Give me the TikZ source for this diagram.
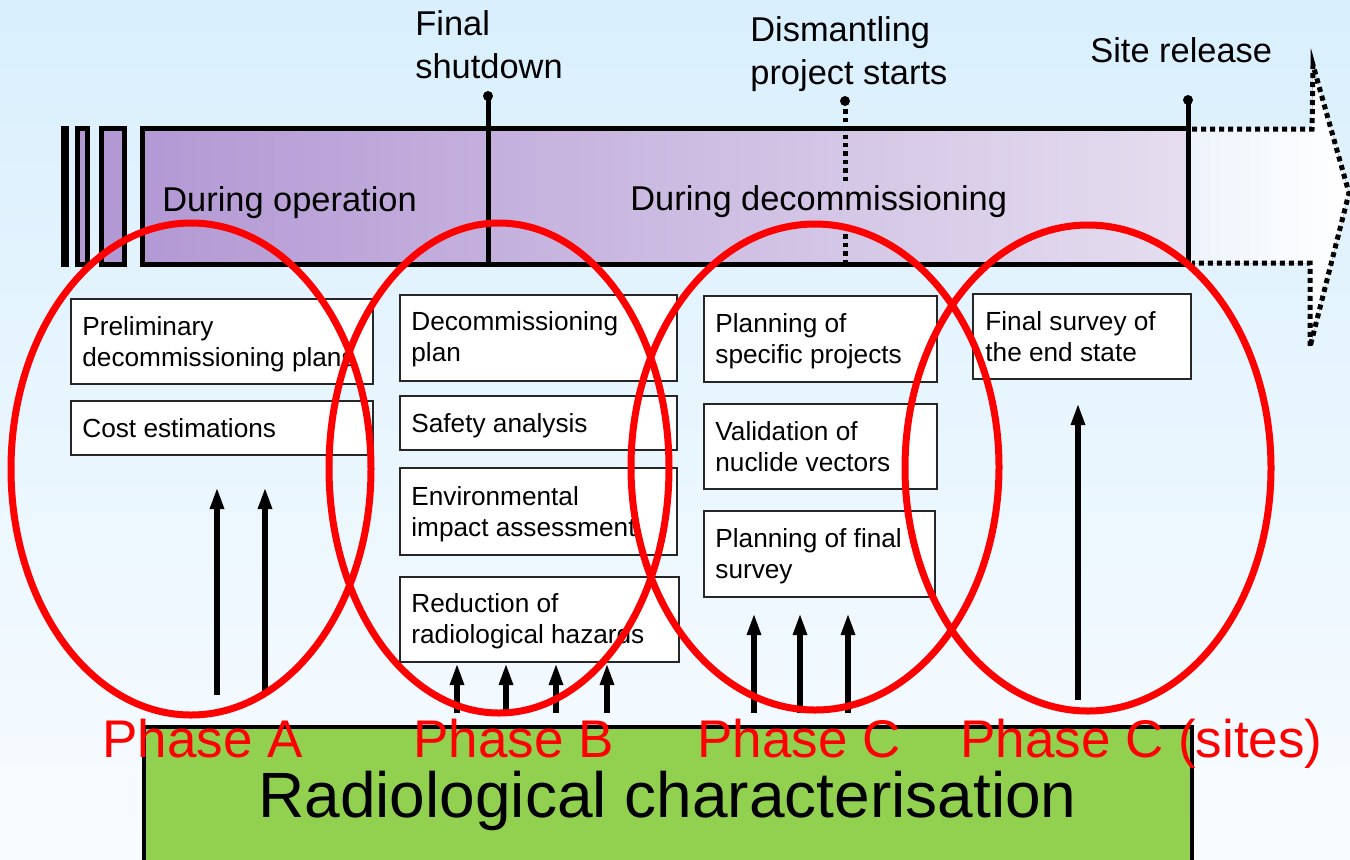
\documentclass[tikz,border=0pt]{standalone}
\usepackage{fontspec}
\setmainfont{Liberation Sans}
\usetikzlibrary{arrows.meta,calc}
\definecolor{bgtop}{RGB}{217,239,253}
\definecolor{bgbot}{RGB}{248,252,255}
\definecolor{barL}{RGB}{179,153,212}
\definecolor{barR}{RGB}{229,221,239}
\definecolor{arrL}{RGB}{238,244,252}
\definecolor{rcgreen}{RGB}{146,208,80}
\begin{document}
\begin{tikzpicture}[x=0.5pt,y=-0.5pt,
  box/.style={draw=black!85,line width=1pt,fill=white,inner sep=0,anchor=north west},
  btext/.style={anchor=base west,align=left,inner sep=0,font=\fontsize{13.1}{15.5}\selectfont},
  tl/.style={anchor=base west,align=left,inner sep=0,font=\fontsize{17.2}{21.5}\selectfont},
  ph/.style={anchor=base west,inner sep=0,text=red,font=\fontsize{26.5}{30}\selectfont},
  arr/.style={line width=3pt,-{Triangle[width=6.5pt,length=11pt]}},
  ring/.style={draw=red,line width=3.5pt},
  barline/.style={line width=2.5pt},
  dotline/.style={line width=2.5pt,dash pattern=on 2.2pt off 2pt},
  arrdots/.style={line width=2.5pt,dash pattern=on 2.5pt off 2pt},
]
\useasboundingbox (0,0) rectangle (1350,859);
\clip (0,0) rectangle (1350,859);
\fill[top color=bgtop,bottom color=bgbot] (0,0) rectangle (1350,859);

% big dotted arrow
\fill[left color=arrL,right color=white] (1188,129) -- (1312,129) -- (1313,65) -- (1349,193) -- (1310,347) -- (1310,263) -- (1188,263) -- cycle;
\draw[arrdots] (1192,129) -- (1312,129) -- (1313,65) -- (1349,193) -- (1310,347) -- (1310,263) -- (1192,263);

% thin bars at left
\fill (61,126) rectangle (69,267);
\draw[barline,fill=barL] (77.5,128.5) rectangle (87,264.5);
\draw[barline,fill=barL] (101.5,128.5) rectangle (124.5,264.5);

% main bar
\fill[left color=barL,right color=barR] (142.5,128.5) rectangle (1188,264.5);
\draw[barline] (1188,128.5) -- (142.5,128.5) -- (142.5,264.5) -- (1188,264.5);
\coordinate (fs) at (488,96);
\coordinate (dp) at (845,101);
\coordinate (sr) at (1188,100);
\draw[barline] (fs) -- (488,264.5);
\fill (fs) circle (5);
\draw[barline] (sr) -- (1188,264.5);
\fill (sr) circle (5);
\draw[dotline] (dp) -- (845,182);
\draw[dotline] (845,226) -- (845,266);
\fill (dp) circle (5);

% timeline labels (base = last line)
\node[tl] (tfs) at (415,78) {Final\\shutdown};
\node[tl] (tdp) at (750,84) {Dismantling\\project starts};
\node[tl] (tsr) at (1090,62) {Site release};
\node[tl] (top) at (162,211) {During operation};
\node[tl] (tdc) at (630,210) {During decommissioning};

% boxes
\node[box,minimum width=151pt,minimum height=42.5pt] (b1) at (70,298) {};
\node[box,minimum width=151pt,minimum height=27pt] (b2) at (70,400) {};
\node[box,minimum width=138.5pt,minimum height=43pt] (b3) at (399,294) {};
\node[box,minimum width=138.5pt,minimum height=27pt] (b4) at (399,395) {};
\node[box,minimum width=138.5pt,minimum height=43.5pt] (b5) at (399,467) {};
\node[box,minimum width=139.5pt,minimum height=42.5pt] (b6) at (399,576) {};
\node[box,minimum width=116.5pt,minimum height=43pt] (b7) at (703,295) {};
\node[box,minimum width=116.5pt,minimum height=42.5pt] (b8) at (703,403) {};
\node[box,minimum width=115.5pt,minimum height=43pt] (b9) at (703,510) {};
\node[box,minimum width=109pt,minimum height=42.5pt] (b10) at (972,293) {};

\node[btext] (t1) at ($(b1.north west)+(12,68)$) {Preliminary\\decommissioning plans};
\node[btext] (t2) at ($(b2.north west)+(12,37)$) {Cost estimations};
\node[btext] (t3) at ($(b3.north west)+(12,67)$) {Decommissioning\\plan};
\node[btext] (t4) at ($(b4.north west)+(12,37)$) {Safety analysis};
\node[btext] (t5) at ($(b5.north west)+(12,69)$) {Environmental\\impact assessment};
\node[btext] (t6) at ($(b6.north west)+(12,67)$) {Reduction of\\radiological hazards};
\node[btext] (t7) at ($(b7.north west)+(12,68)$) {Planning of\\specific projects};
\node[btext] (t8) at ($(b8.north west)+(12,68)$) {Validation of\\nuclide vectors};
\node[btext] (t9) at ($(b9.north west)+(12,68)$) {Planning of final\\survey};
\node[btext] (t10) at ($(b10.north west)+(13,68)$) {Final survey of\\the end state};

% arrows
\coordinate (a1) at (217,695); \coordinate (a1e) at (217,487);
\coordinate (a2) at (265,695); \coordinate (a2e) at (265,487);
\draw[arr] (a1) -- (a1e);
\draw[arr] (a2) -- (a2e);
\foreach \x [count=\i] in {457,506,556,607}{
  \coordinate (bb\i) at (\x,713);
  \draw[arr] (bb\i) -- (bb\i |- b6.south);
}
\foreach \x [count=\i] in {754,800,848}{
  \coordinate (cc\i) at (\x,713);
  \coordinate (cc\i e) at (\x,613);
  \draw[arr] (cc\i) -- (cc\i e);
}
\coordinate (d1) at (1078,700); \coordinate (d1e) at (1078,403);
\draw[arr] (d1) -- (d1e);

% radiological characterisation
\node[draw,line width=2pt,fill=rcgreen,anchor=north west,inner sep=0,minimum width=524pt,minimum height=90pt] (rc) at (142,725) {};
\node[anchor=base west,inner sep=0,font=\fontsize{32}{36}\selectfont] (rct) at (258,817) {Radiological characterisation};

% phase labels
\node[ph] (pa) at (102,757) {Phase A};
\node[ph] (pb) at (413,757) {Phase B};
\node[ph] (pc) at (697,757) {Phase C};
\node[ph] (pd) at (960,757) {Phase C (sites)};

% red ellipses
\draw[ring] (191,469) ellipse [x radius=180,y radius=246];
\draw[ring] (499,468) ellipse [x radius=170,y radius=245];
\draw[ring] (815,467) ellipse [x radius=184,y radius=243];
\draw[ring] (1088,468) ellipse [x radius=183,y radius=243];
\end{tikzpicture}
\end{document}
